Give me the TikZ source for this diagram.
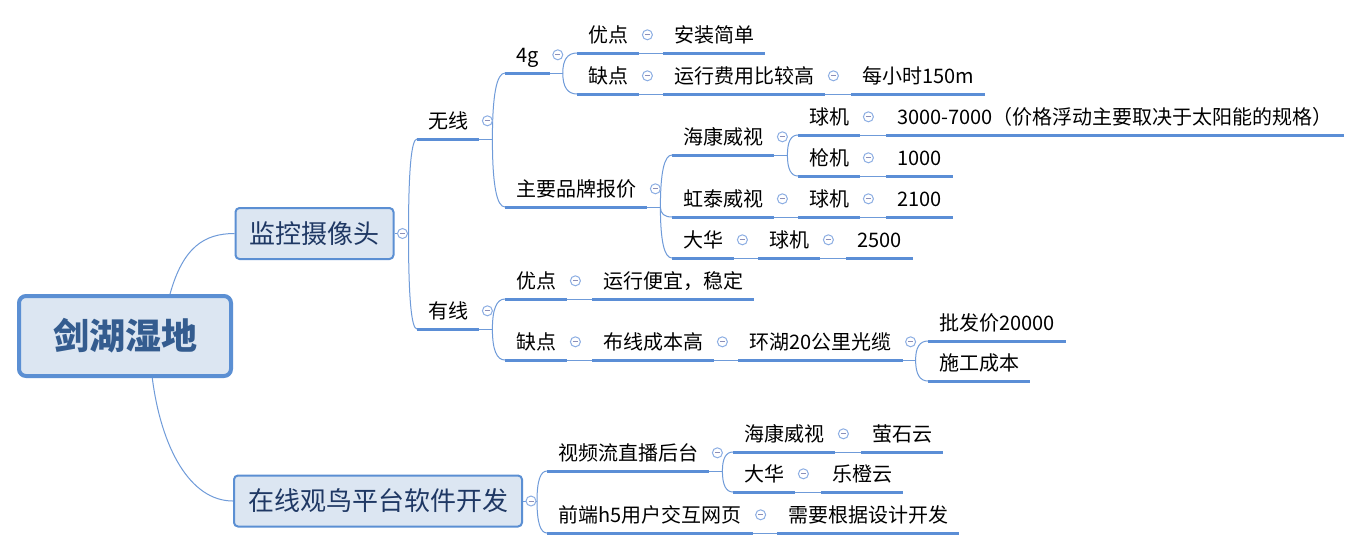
\documentclass[tikz,border=0pt]{standalone}
\usepackage{fontspec}
\setmainfont{Noto Sans CJK SC}
\usetikzlibrary{positioning,calc}

\definecolor{lineblue}{HTML}{5B8ED6}
\definecolor{linkblue}{HTML}{6F9BD9}
\definecolor{boxfill}{HTML}{DCE6F2}
\definecolor{boxdraw}{HTML}{5B8FD3}
\definecolor{roottext}{HTML}{345C8F}
\definecolor{maintext}{HTML}{1F3864}
\definecolor{foldblue}{HTML}{8CAEE3}
\definecolor{foldminus}{HTML}{8C8FB8}

\tikzset{
  rootbox/.style={draw=boxdraw, fill=boxfill, line width=4pt, rounded corners=7pt,
    minimum width=212pt, minimum height=80pt, inner sep=0pt,
    font=\fontsize{36}{40}\selectfont\bfseries, text=roottext},
  mainbox/.style={draw=boxdraw, fill=boxfill, line width=2pt, rounded corners=4pt,
    minimum height=51pt, inner xsep=14pt, inner ysep=0pt,
    font=\fontsize{26}{30}\selectfont, text=maintext},
  topic/.style={anchor=south west, inner xsep=11pt, inner ysep=0pt,
    text height=26pt, text depth=10pt, font=\fontsize{20}{24}\selectfont},
  uline/.style={draw=lineblue, line width=3pt},
  link/.style={draw=linkblue, line width=1pt},
  fold/.style={circle, draw=foldblue, fill=white, line width=1pt, minimum size=10pt,
    inner sep=0pt, path picture={\draw[foldminus, line width=1pt]
      ([xshift=-2.5pt]path picture bounding box.center) --
      ([xshift=2.5pt]path picture bounding box.center);}}
}

\begin{document}
\begin{tikzpicture}[x=1pt, y=-1pt]
\path[use as bounding box, fill=white] (0,0) rectangle (1371,550);
% main topics
\node[rootbox] (r) at (125,336) {剑湖湿地};
\node[mainbox] (jk) at (314.5,233.5) {监控摄像头};
\node[mainbox] (zx) at (378,501) {在线观鸟平台软件开发};
% wireless
\node[topic] (wx) at (417,139) {无线};
\node[topic] (g4) at (505,73) {4g};
\node[topic] (g4a) at (577,53) {优点};
\node[topic] (g4a1) at (663,53) {安装简单};
\node[topic] (g4b) at (577,94) {缺点};
\node[topic] (g4b1) at (663,94) {运行费用比较高};
\node[topic] (g4b2) at (851,94) {每小时150m};
\node[topic] (pp) at (505,207) {主要品牌报价};
\node[topic] (hk) at (672,155) {海康威视};
\node[topic] (hk1) at (798,135) {球机};
\node[topic] (hk1a) at (886,135) {3000-7000（价格浮动主要取决于太阳能的规格）};
\node[topic] (hk2) at (798,176) {枪机};
\node[topic] (hk2a) at (886,176) {1000};
\node[topic] (ht) at (672,217) {虹泰威视};
\node[topic] (ht1) at (798,217) {球机};
\node[topic] (ht1a) at (886,217) {2100};
\node[topic] (dh) at (672,258) {大华};
\node[topic] (dh1) at (758,258) {球机};
\node[topic] (dh1a) at (846,258) {2500};
% wired
\node[topic] (yx) at (417,329) {有线};
\node[topic] (yxa) at (505,299) {优点};
\node[topic] (yxa1) at (592,299) {运行便宜，稳定};
\node[topic] (yxb) at (505,360) {缺点};
\node[topic] (yxb1) at (592,360) {布线成本高};
\node[topic] (yxb2) at (738,360) {环湖20公里光缆};
\node[topic] (yxb2a) at (928,341) {批发价20000};
\node[topic] (yxb2b) at (928,381) {施工成本};
% platform
\node[topic] (sp) at (547,471) {视频流直播后台};
\node[topic] (sp1) at (733,452) {海康威视};
\node[topic] (sp1a) at (861,452) {萤石云};
\node[topic] (sp2) at (733,492) {大华};
\node[topic] (sp2a) at (821,492) {乐橙云};
\node[topic] (qd) at (547,533) {前端h5用户交互网页};
\node[topic] (qd1) at (777,533) {需要根据设计开发};

% root connectors
\draw[link] (r.43) .. controls +(13,-47) and +(-30,0) .. (jk.west);
\draw[link] (r.-57.5) .. controls +(9,70) and +(-43,0) .. (zx.west);

% junctions
\coordinate (jjk) at ([xshift=14pt]jk.east);
\coordinate (jzx) at ([xshift=14pt]zx.east);
\draw[link] (jk.east) -- (jjk);
\draw[link] (zx.east) -- (jzx);
\foreach \n in {wx,g4,pp,hk,yx,yxb2,sp} {
  \coordinate (j\n) at ([xshift=13pt]\n.south east);
  \draw[link] (\n.south east) -- (j\n);
}
\foreach \p/\c in {jk/wx,jk/yx,wx/g4,wx/pp,g4/g4a,g4/g4b,pp/hk,pp/ht,pp/dh,
    hk/hk1,hk/hk2,yx/yxa,yx/yxb,yxb2/yxb2a,yxb2/yxb2b,zx/sp,zx/qd,sp/sp1,sp/sp2}
  \draw[link] (j\p) .. controls ($(j\p)!2/3!(j\p |- \c.south west)$)
    and ($(\c.south west)!2/3!(j\p |- \c.south west)$) .. (\c.south west);

% single links
\foreach \a/\b in {g4a/g4a1,g4b/g4b1,g4b1/g4b2,hk1/hk1a,hk2/hk2a,ht/ht1,ht1/ht1a,
    dh/dh1,dh1/dh1a,yxa/yxa1,yxb/yxb1,yxb1/yxb2,sp1/sp1a,sp2/sp2a,qd/qd1}
  \draw[link] (\a.south east) -- (\b.south west);

% underlines
\foreach \n in {wx,g4,g4a,g4a1,g4b,g4b1,g4b2,pp,hk,hk1,hk1a,hk2,hk2a,ht,ht1,ht1a,
    dh,dh1,dh1a,yx,yxa,yxa1,yxb,yxb1,yxb2,yxb2a,yxb2b,sp,sp1,sp1a,sp2,sp2a,qd,qd1}
  \draw[uline] (\n.south west) -- (\n.south east);

% fold marks
\foreach \n in {jk,zx,wx,g4,g4a,g4b,g4b1,pp,hk,hk1,hk2,ht,ht1,dh,dh1,
    yx,yxa,yxb,yxb1,yxb2,sp,sp1,sp2,qd}
  \node[fold] (f\n) at ([xshift=8pt]\n.east) {};
\end{tikzpicture}
\end{document}
